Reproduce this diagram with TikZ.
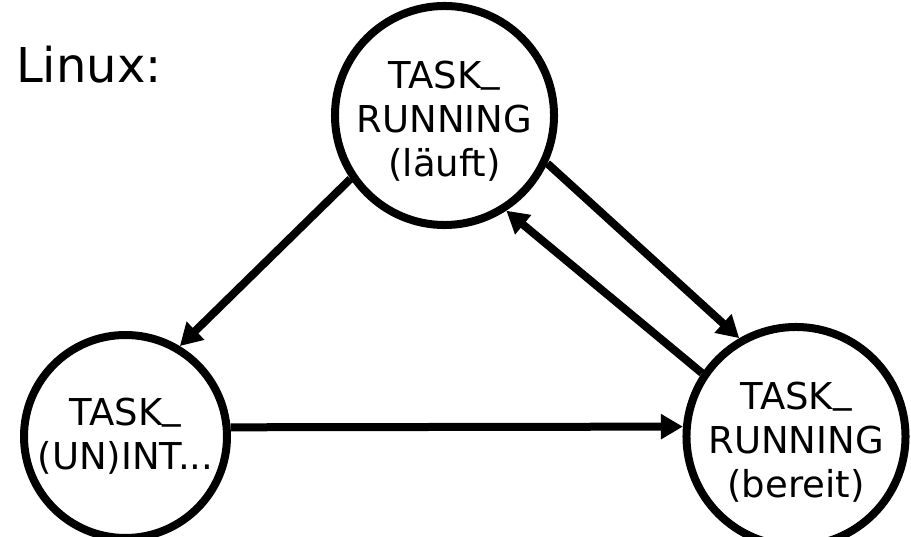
\documentclass[tikz,border=0pt]{standalone}
\usepackage{fontspec}
\setmainfont{DejaVu Sans}
\usetikzlibrary{arrows.meta}
\newcommand{\us}{\raisebox{0.2em}{\_}}
\newcommand{\topstrut}{\rule{0pt}{39pt}}
\tikzset{
  state/.style={circle, draw, line width=8pt, minimum size=203pt, inner sep=0pt,
    align=center, font=\fontsize{37}{44}\selectfont},
  conn/.style={line width=8pt, -{Triangle[length=22pt,width=24pt]}},
}
\begin{document}
\begin{tikzpicture}[x=1pt,y=-1pt]
\useasboundingbox (0,0) rectangle (911,537);
\node[anchor=base west, font=\fontsize{48}{58}\selectfont, inner sep=0pt] (title) at (16,83) {Linux:};
\node[state] (run) at (444.5,115.5) {\topstrut TASK\us\\RUNNING\\(läuft)};
\node[state] (wait) at (125.5,436.5) {TASK\us\\(UN)INT...};
\node[state] (ready) at (796,436.5) {\topstrut TASK\us\\RUNNING\\(bereit)};
\draw[conn] (run.214.5) -- (wait.59.8);
\draw[conn] (run.335.5) -- (ready.120);
\draw[conn] (ready.146.4) -- (run.303);
\draw[conn] (wait.5) -- (ready.175);
\end{tikzpicture}
\end{document}
